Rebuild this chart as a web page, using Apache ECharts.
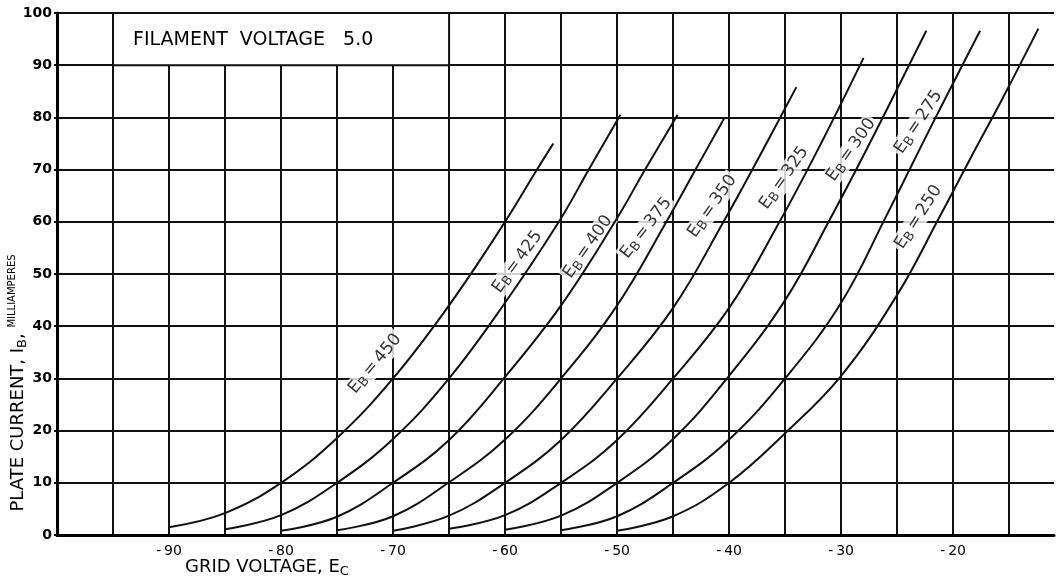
<!DOCTYPE html>
<html>
<head>
<meta charset="utf-8">
<script src="https://cdn.jsdelivr.net/npm/echarts@6/dist/echarts.min.js"></script>
<style>
  html, body { margin: 0; padding: 0; background: #fff; }
  #chart { width: 1057px; height: 580px; }
</style>
</head>
<body>
<div id="chart"></div>
<script>
// plate current (mA) vs grid voltage (V), one curve per plate voltage EB
const eb450 = [[-90, 1.5], [-85, 4.2], [-80, 10], [-75, 18.6], [-70, 30], [-65, 44], [-60, 60], [-57.3, 69.5], [-55.7, 75]];
const eb425 = [[-85, 1.1], [-80, 3.8], [-75, 10], [-70, 18.4], [-65, 30], [-60, 44.5], [-55.2, 60], [-52.4, 70.5], [-49.7, 80.5]];
const eb400 = [[-80, 0.8], [-75, 3.5], [-70, 10], [-65, 18.2], [-60, 30.3], [-55, 44], [-50.2, 60], [-47.5, 70], [-44.6, 80.5]];
const eb375 = [[-75, 0.9], [-70, 3.6], [-65, 10.1], [-60, 18.3], [-55, 30], [-50, 44], [-45.6, 60], [-43, 70], [-40.4, 80]];
const eb350 = [[-70, 0.8], [-65, 3.7], [-60, 10], [-55, 18.2], [-50, 30], [-45, 43.5], [-40.5, 60], [-37.3, 72.5], [-34, 85.8]];
const eb325 = [[-65, 1.2], [-60, 3.8], [-55, 10], [-50, 18.2], [-45, 30], [-40, 43.5], [-35.5, 60], [-31.8, 75], [-28, 91.4]];
const eb300 = [[-60, 1], [-55, 3.7], [-50, 10], [-45, 18.4], [-40, 30.5], [-35, 45], [-31, 60.5], [-27.7, 74], [-22.4, 96.6]];
const eb275 = [[-55, 0.9], [-50, 3.6], [-45, 10], [-40, 18.3], [-35, 30], [-30, 44.5], [-26, 61], [-21.8, 79], [-17.6, 96.6]];
const eb250 = [[-50, 0.8], [-45, 3.6], [-40, 10], [-35, 19.5], [-30, 30.5], [-25, 46], [-21.2, 61], [-18.5, 72], [-15.5, 84], [-12.4, 97]];

const curves = [eb450, eb425, eb400, eb375, eb350, eb325, eb300, eb275, eb250];
const plateVolts = [450, 425, 400, 375, 350, 325, 300, 275, 250];

// where each "EB=..." tag sits (data coords) and its tilt
const tagSpots = [[-71.6, 32.8], [-58.9, 52.3], [-52.6, 55.2], [-47.4, 58.8], [-41.5, 63], [-35.1, 68.4], [-29.1, 73.8], [-23.1, 79.1], [-23.1, 60.9]];
const tagAngles = [50, 54, 55, 52, 55, 55, 55, 56, 57];

const filamentBox = [[-95, 100], [-65, 90]];
const filamentText = 'FILAMENT  VOLTAGE   5.0';

const font = 'DejaVu Sans';
const ink = '#111';

const chart = echarts.init(document.getElementById('chart'));

const curveSeries = curves.map((pts, i) => ({
  name: 'EB=' + plateVolts[i],
  type: 'line',
  data: pts,
  symbol: 'none',
  smooth: 0.4,
  silent: true,
  z: 5,
  lineStyle: { color: ink, width: 2 }
}));

// title box sits on the first curve series
curveSeries[0].markArea = {
  silent: true,
  itemStyle: { color: '#fff', borderColor: ink, borderWidth: 2 },
  label: {
    show: true,
    position: [21, 28],
    align: 'left',
    verticalAlign: 'middle',
    fontFamily: font,
    fontSize: 19,
    color: '#000'
  },
  data: [[
    { coord: filamentBox[0], name: filamentText },
    { coord: filamentBox[1] }
  ]]
};

const tagSeries = {
  type: 'scatter',
  symbolSize: 1,
  itemStyle: { color: 'transparent' },
  silent: true,
  z: 3,
  data: plateVolts.map((v, i) => ({
    value: tagSpots[i],
    label: {
      show: true,
      position: 'inside',
      rotate: tagAngles[i],
      formatter: '{e|E}{s|B}{q|=}{e|' + v + '}'
    }
  })),
  label: {
    backgroundColor: '#fff',
    padding: [0, 2],
    color: '#000',
    rich: {
      e: { fontFamily: font, fontSize: 17, color: '#000', lineHeight: 20 },
      s: { fontFamily: font, fontSize: 13, color: '#000', verticalAlign: 'bottom', lineHeight: 20 },
      q: { fontFamily: font, fontSize: 17, color: '#000', padding: [0, 3], lineHeight: 20 }
    }
  }
};

const option = {
  backgroundColor: '#fff',
  animation: false,
  grid: { left: 57, right: 0, top: 13, bottom: 45 },
  xAxis: {
    type: 'value',
    min: -100,
    max: -11,
    interval: 5,
    axisLine: { show: true, onZero: false, lineStyle: { color: '#000', width: 3 } },
    axisTick: { show: false },
    splitLine: { show: true, showMaxLine: false, lineStyle: { color: ink, width: 2 } },
    axisLabel: {
      margin: 9,
      fontFamily: font,
      fontSize: 14,
      color: '#000',
      formatter: v => (v % 10 === 0 && v > -100) ? '-\u2009' + Math.abs(v) : ''
    }
  },
  yAxis: {
    type: 'value',
    min: 0,
    max: 100,
    interval: 10,
    axisLine: { show: true, lineStyle: { color: '#000', width: 3 } },
    axisTick: { show: true, length: 3, lineStyle: { color: '#000', width: 2 } },
    splitLine: { show: true, lineStyle: { color: ink, width: 2 } },
    axisLabel: {
      margin: 5,
      fontFamily: font,
      fontSize: 14,
      fontWeight: 'bold',
      color: '#000'
    }
  },
  graphic: [
    {
      type: 'text',
      x: 185,
      y: 567,
      silent: true,
      style: {
        text: '{a|GRID VOLTAGE, E}{b|C}',
        verticalAlign: 'middle',
        rich: {
          a: { fontFamily: font, fontSize: 18, color: '#000', lineHeight: 22 },
          b: { fontFamily: font, fontSize: 13, color: '#000', verticalAlign: 'bottom', lineHeight: 22 }
        }
      }
    },
    {
      type: 'text',
      x: 18,
      y: 383,
      rotation: Math.PI / 2,
      silent: true,
      style: {
        text: '{a|PLATE CURRENT, I}{b|B}{a|, }{m|MILLIAMPERES}',
        align: 'center',
        verticalAlign: 'middle',
        rich: {
          a: { fontFamily: font, fontSize: 18, color: '#000', lineHeight: 22 },
          b: { fontFamily: font, fontSize: 13, color: '#000', verticalAlign: 'bottom', lineHeight: 22 },
          m: { fontFamily: font, fontSize: 10, color: '#000', verticalAlign: 'top', lineHeight: 22 }
        }
      }
    }
  ],
  series: [...curveSeries, tagSeries]
};

chart.setOption(option);
</script>
</body>
</html>
